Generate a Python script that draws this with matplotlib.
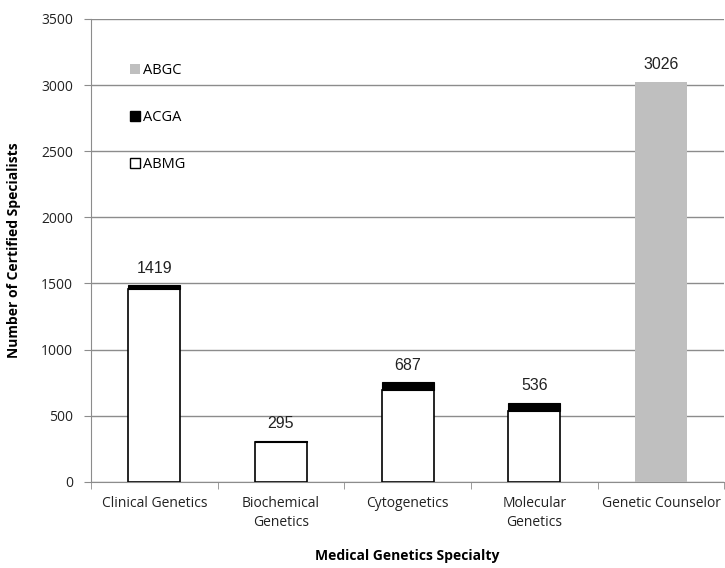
import matplotlib
matplotlib.use("Agg")
import matplotlib.pyplot as plt
from matplotlib.patches import Patch
import numpy as np

categories = ["Clinical Genetics", "Biochemical\nGenetics", "Cytogenetics", "Molecular\nGenetics", "Genetic Counselor"]
abmg = [1455, 298, 690, 538, 0]
acga = [30, 10, 62, 60, 0]
abgc = [0, 0, 0, 0, 3026]
label_text = ["1419", "295", "687", "536", "3026"]
y_ticks = [0, 500, 1000, 1500, 2000, 2500, 3000, 3500]

fig = plt.figure(figsize=(7.25, 5.68), dpi=100)
ax = fig.add_axes([91/725, 1-481.7/568, 1-91/725-0.001, (481.7-19)/568])

x = np.arange(len(categories))
w = 0.41
gridc = "#8c8c8c"
ax.set_ylim(0, 3500)
ax.set_xlim(-0.5, len(categories)-0.5)
ax.set_yticks(y_ticks)
ax.yaxis.grid(True, color=gridc, linewidth=1.0)
ax.set_axisbelow(True)

ax.bar(x[:4], abmg[:4], w, color="white", edgecolor="black", linewidth=1.2, zorder=3)
ax.bar(x[:4], acga[:4], w, bottom=abmg[:4], color="black", edgecolor="black", linewidth=0.8, zorder=3)
ax.bar(x[4:], abgc[4:], w, color="#bfbfbf", edgecolor="none", zorder=3)

totals = [a + b + c for a, b, c in zip(abmg, acga, abgc)]
for xi, t, lab in zip(x, totals, label_text):
    ax.annotate(lab, (xi, t), xytext=(0, 7), textcoords="offset points", ha="center", va="bottom",
                fontsize=11.5, family="Liberation Sans", color="#222222")

for s in ["top", "right"]:
    ax.spines[s].set_visible(False)
ax.spines["left"].set_color(gridc)
ax.spines["bottom"].set_color(gridc)

ax.set_xticks(x)
ax.set_xticklabels(categories, fontsize=10, family="Open Sans", color="#222222", linespacing=1.4)
ax.set_xticks(np.arange(-0.5, len(categories), 1.0), minor=True)
ax.tick_params(axis="x", which="major", length=0, pad=10)
ax.tick_params(axis="x", which="minor", length=5, color=gridc, direction="out")
ax.tick_params(axis="y", length=5, color=gridc, labelsize=10, pad=8)
for lbl in ax.get_yticklabels():
    lbl.set_family("Open Sans")
    lbl.set_color("#222222")

ax.set_ylabel("Number of Certified Specialists", fontsize=10, fontweight="bold", family="Open Sans", labelpad=14)
ax.set_xlabel("Medical Genetics Specialty", fontsize=10, fontweight="bold", family="Open Sans", labelpad=14)

handles = [Patch(facecolor="#bfbfbf", edgecolor="none", label="ABGC"),
           Patch(facecolor="black", edgecolor="black", label="ACGA"),
           Patch(facecolor="white", edgecolor="black", label="ABMG")]
leg = ax.legend(handles=handles, loc="upper left", bbox_to_anchor=(0.061, 0.905), frameon=False,
                handlelength=0.7, handleheight=0.7, handletextpad=0.2,
                labelspacing=2.2, borderpad=0, borderaxespad=0, prop={"family": "Open Sans", "size": 10.5})

fig.savefig("out.png", dpi=100)
